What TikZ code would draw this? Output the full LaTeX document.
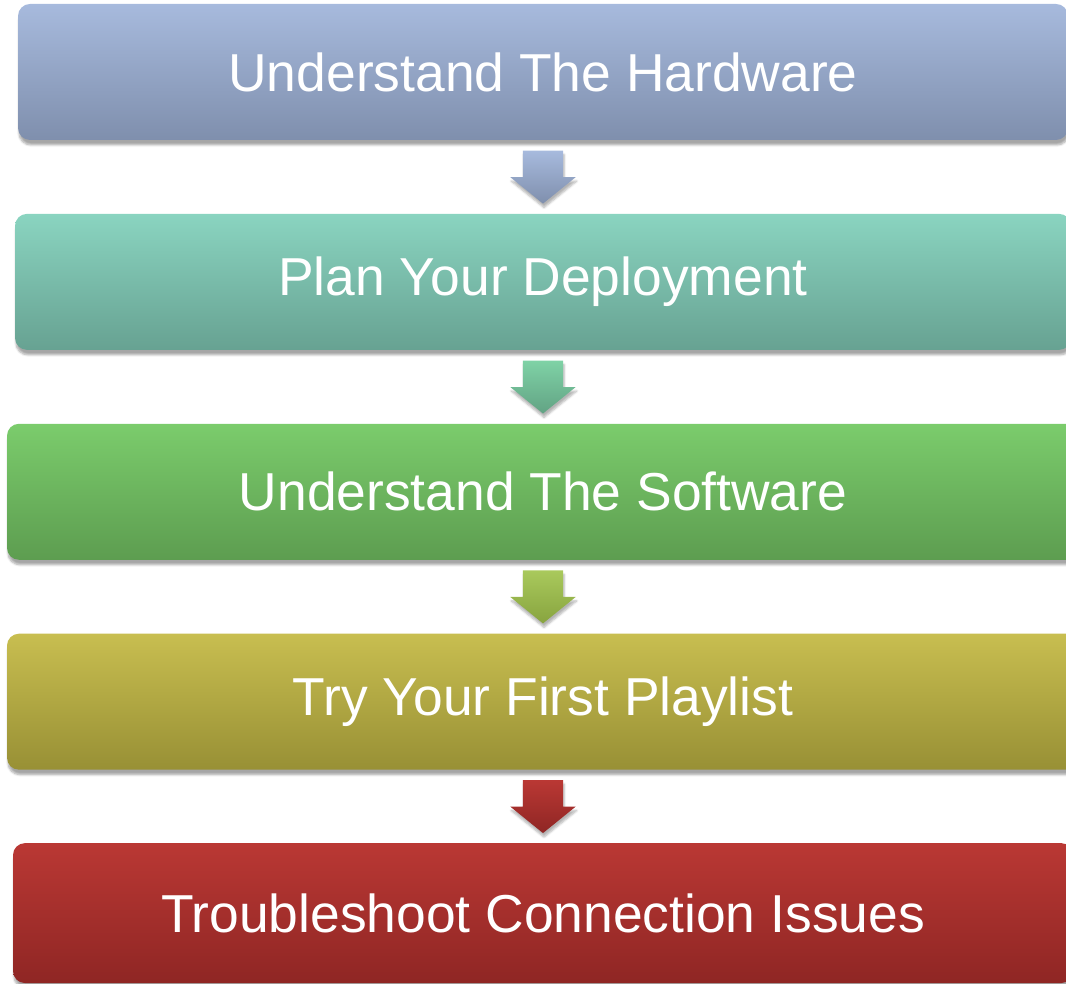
\documentclass[tikz,border=0pt]{standalone}
\usepackage{fontspec}
\setmainfont{Liberation Sans}
\usetikzlibrary{positioning,calc,shapes.arrows,shadows.blur}
\definecolor{hwtop}{HTML}{A7BADD}
\definecolor{hwbot}{HTML}{7F8FAD}
\definecolor{plantop}{HTML}{8AD4C0}
\definecolor{planbot}{HTML}{67A292}
\definecolor{swtop}{HTML}{7BCC6C}
\definecolor{swbot}{HTML}{5D9D50}
\definecolor{pltop}{HTML}{C8BE50}
\definecolor{plbot}{HTML}{989035}
\definecolor{trtop}{HTML}{BA3834}
\definecolor{trbot}{HTML}{8F2624}
\definecolor{ptop}{HTML}{7FD2A6}
\definecolor{pbot}{HTML}{62A384}
\definecolor{stop}{HTML}{A9C95C}
\definecolor{sbot}{HTML}{88A43F}
\tikzset{
    %gradient fill, top and bottom colour
    grad/.style 2 args={
           top color=#1,
           bottom color=#2},
    %Define style for the step boxes
    stepbox/.style={
           rectangle,
           rounded corners=12pt,
           minimum height=136pt,
           inner sep=0pt,
           text=white,
           font=\fontsize{53.4}{64}\selectfont,
           blur shadow={shadow xshift=1pt, shadow yshift=-5pt,
                        shadow blur steps=6, shadow opacity=35}},
    %Define style for the block arrows
    blockarr/.style={
           single arrow,
           shape border rotate=270,
           minimum height=53pt,
           minimum width=65pt,
           single arrow head extend=12.5pt,
           single arrow tip angle=102,
           inner xsep=20pt,
           inner ysep=0pt,
           yshift=8pt,
           blur shadow={shadow xshift=1pt, shadow yshift=-4pt,
                        shadow blur steps=5, shadow opacity=30}}
}
\begin{document}
\begin{tikzpicture}[x=1pt,y=1pt,node distance=73.5pt]
\useasboundingbox (0,0) rectangle (1066,983);
\clip (0,0) rectangle (1066,983);
 %nodes
\node[stepbox, grad={hwtop}{hwbot}, minimum width=1050pt] (hw) at (543,911) {Understand The Hardware};
\node[stepbox, grad={plantop}{planbot}, minimum width=1056pt, below = of hw] (plan) {Plan Your Deployment};
\node[stepbox, grad={swtop}{swbot}, minimum width=1072pt, below = of plan] (sw) {Understand The Software};
\node[stepbox, grad={pltop}{plbot}, minimum width=1072pt, below = of sw] (playlist) {Try Your First Playlist};
\node[stepbox, grad={trtop}{trbot}, minimum width=1060pt, minimum height=140pt, below = 73pt of playlist] (trouble) {Troubleshoot Connection Issues};

 %arrows
\node[blockarr, grad={hwtop}{hwbot}] (a1) at ($(hw.south)!.5!(plan.north)$) {};
\node[blockarr, grad={ptop}{pbot}] (a2) at ($(plan.south)!.5!(sw.north)$) {};
\node[blockarr, grad={stop}{sbot}] (a3) at ($(sw.south)!.5!(playlist.north)$) {};
\node[blockarr, grad={trtop}{trbot}] (a4) at ($(playlist.south)!.5!(trouble.north)$) {};

\end{tikzpicture}
\end{document}
